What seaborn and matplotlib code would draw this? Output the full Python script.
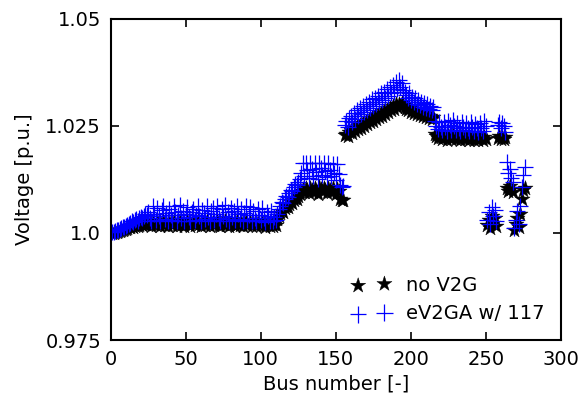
import matplotlib
matplotlib.use("Agg")
import matplotlib.pyplot as plt
import numpy as np
import pandas as pd
import seaborn as sns

# Bus voltages [p.u.] (buses 1..276)
no_v2g = [
    # 1-12
    1.0000, 1.0001, 1.0002, 1.0003, 1.0004, 1.0005, 1.0006, 1.0008, 1.0009, 1.0010, 1.0012, 1.0013,
    # 13-24
    1.0014, 1.0016, 1.0015, 1.0017, 1.0018, 1.0016, 1.0019, 1.0020, 1.0018, 1.0021, 1.0022, 1.0020,
    # 25-110
    1.0024, 1.0020, 1.0017, 1.0026, 1.0022, 1.0018, 1.0027, 1.0021, 1.0016, 1.0025,
    1.0028, 1.0019, 1.0023, 1.0017, 1.0026, 1.0021, 1.0018, 1.0027, 1.0024, 1.0016,
    1.0022, 1.0028, 1.0019, 1.0025, 1.0017, 1.0023, 1.0027, 1.0020, 1.0016, 1.0024,
    1.0026, 1.0018, 1.0022, 1.0028, 1.0021, 1.0017, 1.0025, 1.0023, 1.0019, 1.0027,
    1.0020, 1.0016, 1.0024, 1.0026, 1.0018, 1.0022, 1.0027, 1.0019, 1.0017, 1.0025,
    1.0021, 1.0028, 1.0018, 1.0023, 1.0016, 1.0026, 1.0020, 1.0024, 1.0017, 1.0027,
    1.0022, 1.0019, 1.0025, 1.0016, 1.0023, 1.0027, 1.0018, 1.0021, 1.0026, 1.0017,
    1.0024, 1.0020, 1.0016, 1.0025, 1.0022, 1.0018, 1.0026, 1.0019, 1.0015, 1.0023,
    1.0021, 1.0017, 1.0024, 1.0016, 1.0020, 1.0018,
    # 111-125
    1.0032, 1.0040, 1.0046, 1.0052, 1.0050, 1.0058, 1.0062, 1.0060, 1.0068, 1.0072,
    1.0070, 1.0078, 1.0082, 1.0080, 1.0086,
    # 126-152
    1.0092, 1.0098, 1.0102, 1.0095, 1.0105, 1.0100, 1.0093, 1.0106, 1.0101, 1.0096,
    1.0104, 1.0099, 1.0092, 1.0107, 1.0102, 1.0097, 1.0105, 1.0100, 1.0094, 1.0106,
    1.0101, 1.0095, 1.0104, 1.0098, 1.0091, 1.0103, 1.0097,
    # 153-155
    1.0080, 1.0076, 1.0078,
    # 156-195
    1.0228, 1.0232, 1.0226, 1.0236, 1.0240, 1.0234, 1.0244, 1.0238, 1.0248, 1.0242,
    1.0252, 1.0246, 1.0256, 1.0250, 1.0260, 1.0254, 1.0264, 1.0258, 1.0268, 1.0262,
    1.0272, 1.0266, 1.0276, 1.0270, 1.0280, 1.0274, 1.0284, 1.0278, 1.0288, 1.0282,
    1.0292, 1.0286, 1.0296, 1.0290, 1.0300, 1.0294, 1.0302, 1.0296, 1.0304, 1.0298,
    # 196-215
    1.0294, 1.0290, 1.0286, 1.0291, 1.0283, 1.0288, 1.0280, 1.0285, 1.0278, 1.0282,
    1.0275, 1.0280, 1.0273, 1.0277, 1.0270, 1.0275, 1.0268, 1.0272, 1.0266, 1.0270,
    # 216-250
    1.0232, 1.0226, 1.0221, 1.0230, 1.0224, 1.0219, 1.0228, 1.0223, 1.0218, 1.0229,
    1.0225, 1.0220, 1.0231, 1.0224, 1.0219, 1.0227, 1.0222, 1.0217, 1.0228, 1.0223,
    1.0219, 1.0226, 1.0221, 1.0216, 1.0227, 1.0222, 1.0218, 1.0225, 1.0220, 1.0216,
    1.0226, 1.0221, 1.0217, 1.0224, 1.0219,
    # 251-257
    1.0018, 1.0030, 1.0012, 1.0040, 1.0024, 1.0034, 1.0016,
    # 258-263
    1.0222, 1.0226, 1.0219, 1.0224, 1.0220, 1.0223,
    # 264-268
    1.0105, 1.0098, 1.0110, 1.0102, 1.0095,
    # 269-272
    1.0008, 1.0020, 1.0036, 1.0014,
    # 273-276
    1.0045, 1.0080, 1.0100, 1.0106,
]

ev2ga_117 = [
    # 1-12
    1.0002, 1.0003, 1.0005, 1.0006, 1.0008, 1.0009, 1.0011, 1.0013, 1.0015, 1.0017, 1.0019, 1.0021,
    # 13-24
    1.0024, 1.0028, 1.0026, 1.0031, 1.0033, 1.0029, 1.0036, 1.0038, 1.0034, 1.0040, 1.0044, 1.0042,
    # 25-110
    1.0050, 1.0036, 1.0029, 1.0062, 1.0044, 1.0031, 1.0058, 1.0040, 1.0027, 1.0053,
    1.0064, 1.0033, 1.0046, 1.0029, 1.0057, 1.0041, 1.0030, 1.0063, 1.0049, 1.0028,
    1.0042, 1.0065, 1.0034, 1.0052, 1.0029, 1.0045, 1.0061, 1.0037, 1.0027, 1.0050,
    1.0056, 1.0031, 1.0043, 1.0064, 1.0039, 1.0029, 1.0054, 1.0047, 1.0033, 1.0062,
    1.0038, 1.0027, 1.0051, 1.0058, 1.0031, 1.0044, 1.0063, 1.0034, 1.0029, 1.0055,
    1.0040, 1.0065, 1.0032, 1.0048, 1.0027, 1.0059, 1.0037, 1.0052, 1.0030, 1.0062,
    1.0045, 1.0033, 1.0056, 1.0028, 1.0047, 1.0063, 1.0031, 1.0041, 1.0060, 1.0029,
    1.0051, 1.0036, 1.0027, 1.0055, 1.0043, 1.0031, 1.0058, 1.0035, 1.0026, 1.0048,
    1.0040, 1.0029, 1.0052, 1.0027, 1.0038, 1.0031,
    # 111-125
    1.0045, 1.0056, 1.0064, 1.0072, 1.0069, 1.0080, 1.0086, 1.0083, 1.0094, 1.0100,
    1.0097, 1.0108, 1.0114, 1.0111, 1.0120,
    # 126-152
    1.0125, 1.0140, 1.0163, 1.0132, 1.0164, 1.0146, 1.0128, 1.0163, 1.0150, 1.0134,
    1.0164, 1.0142, 1.0126, 1.0163, 1.0152, 1.0136, 1.0164, 1.0144, 1.0130, 1.0163,
    1.0148, 1.0133, 1.0162, 1.0141, 1.0124, 1.0160, 1.0138,
    # 153-155
    1.0112, 1.0108, 1.0110,
    # 156-195
    1.0252, 1.0262, 1.0248, 1.0268, 1.0274, 1.0258, 1.0280, 1.0266, 1.0286, 1.0272,
    1.0292, 1.0278, 1.0296, 1.0282, 1.0302, 1.0288, 1.0306, 1.0292, 1.0312, 1.0296,
    1.0316, 1.0302, 1.0320, 1.0306, 1.0326, 1.0310, 1.0330, 1.0316, 1.0336, 1.0320,
    1.0340, 1.0326, 1.0346, 1.0330, 1.0352, 1.0336, 1.0356, 1.0340, 1.0350, 1.0334,
    # 196-215
    1.0330, 1.0322, 1.0315, 1.0326, 1.0310, 1.0318, 1.0306, 1.0314, 1.0302, 1.0310,
    1.0298, 1.0306, 1.0295, 1.0303, 1.0292, 1.0300, 1.0289, 1.0297, 1.0286, 1.0294,
    # 216-250
    1.0262, 1.0250, 1.0242, 1.0260, 1.0248, 1.0240, 1.0258, 1.0247, 1.0239, 1.0261,
    1.0251, 1.0241, 1.0263, 1.0249, 1.0240, 1.0257, 1.0246, 1.0238, 1.0259, 1.0248,
    1.0240, 1.0256, 1.0245, 1.0237, 1.0258, 1.0247, 1.0239, 1.0255, 1.0244, 1.0236,
    1.0257, 1.0246, 1.0238, 1.0262, 1.0250,
    # 251-257
    1.0030, 1.0048, 1.0022, 1.0060, 1.0040, 1.0054, 1.0028,
    # 258-263
    1.0252, 1.0258, 1.0245, 1.0256, 1.0250, 1.0236,
    # 264-268
    1.0165, 1.0140, 1.0150, 1.0128, 1.0118,
    # 269-272
    1.0012, 1.0030, 1.0052, 1.0022,
    # 273-276
    1.0062, 1.0108, 1.0135, 1.0155,
]

y_ticks = [0.975, 1.0, 1.025, 1.05]
y_tick_labels = ["0.975", "1.0", "1.025", "1.05"]
x_ticks = [0, 50, 100, 150, 200, 250, 300]


def main():
    assert len(no_v2g) == len(ev2ga_117) == 276
    bus = np.arange(1, len(no_v2g) + 1)
    df = pd.DataFrame({"bus": bus, "no_v2g": no_v2g, "ev2ga": ev2ga_117})

    sns.set_style("ticks")
    plt.rcParams["font.family"] = ["DejaVu Sans"]
    plt.rcParams.update({
        "xtick.direction": "in",
        "ytick.direction": "in",
        "xtick.top": True,
        "ytick.right": True,
        "xtick.major.size": 6,
        "ytick.major.size": 6,
        "axes.linewidth": 1.5,
        "axes.edgecolor": "black",
        "text.color": "black",
        "axes.labelcolor": "black",
        "xtick.color": "black",
        "ytick.color": "black",
    })

    fig, ax = plt.subplots(figsize=(5.83, 4.0), dpi=100)
    fig.subplots_adjust(left=0.19, right=0.962, top=0.953, bottom=0.15)

    sns.scatterplot(data=df, x="bus", y="no_v2g", marker="*", s=130,
                    color="black", edgecolor="black", linewidth=0.3,
                    label="no V2G", ax=ax)
    sns.scatterplot(data=df, x="bus", y="ev2ga", marker="+", s=140,
                    color="blue", linewidth=0.9,
                    label="eV2GA w/ 117", ax=ax)

    ax.set_xlim(0, 300)
    ax.set_ylim(0.975, 1.05)
    ax.set_xticks(x_ticks)
    ax.set_yticks(y_ticks)
    ax.set_yticklabels(y_tick_labels)
    ax.tick_params(labelsize=14, width=1.2, pad=7)
    ax.set_xlabel("Bus number [-]", fontsize=14, labelpad=4)
    ax.set_ylabel("Voltage [p.u.]", fontsize=14, labelpad=8)

    ax.legend(loc="lower right", frameon=False, scatterpoints=2,
              fontsize=14, handlelength=1.95, handletextpad=0.8,
              borderaxespad=0.45)

    fig.savefig("out.png", dpi=100)
    plt.close(fig)


if __name__ == "__main__":
    main()
